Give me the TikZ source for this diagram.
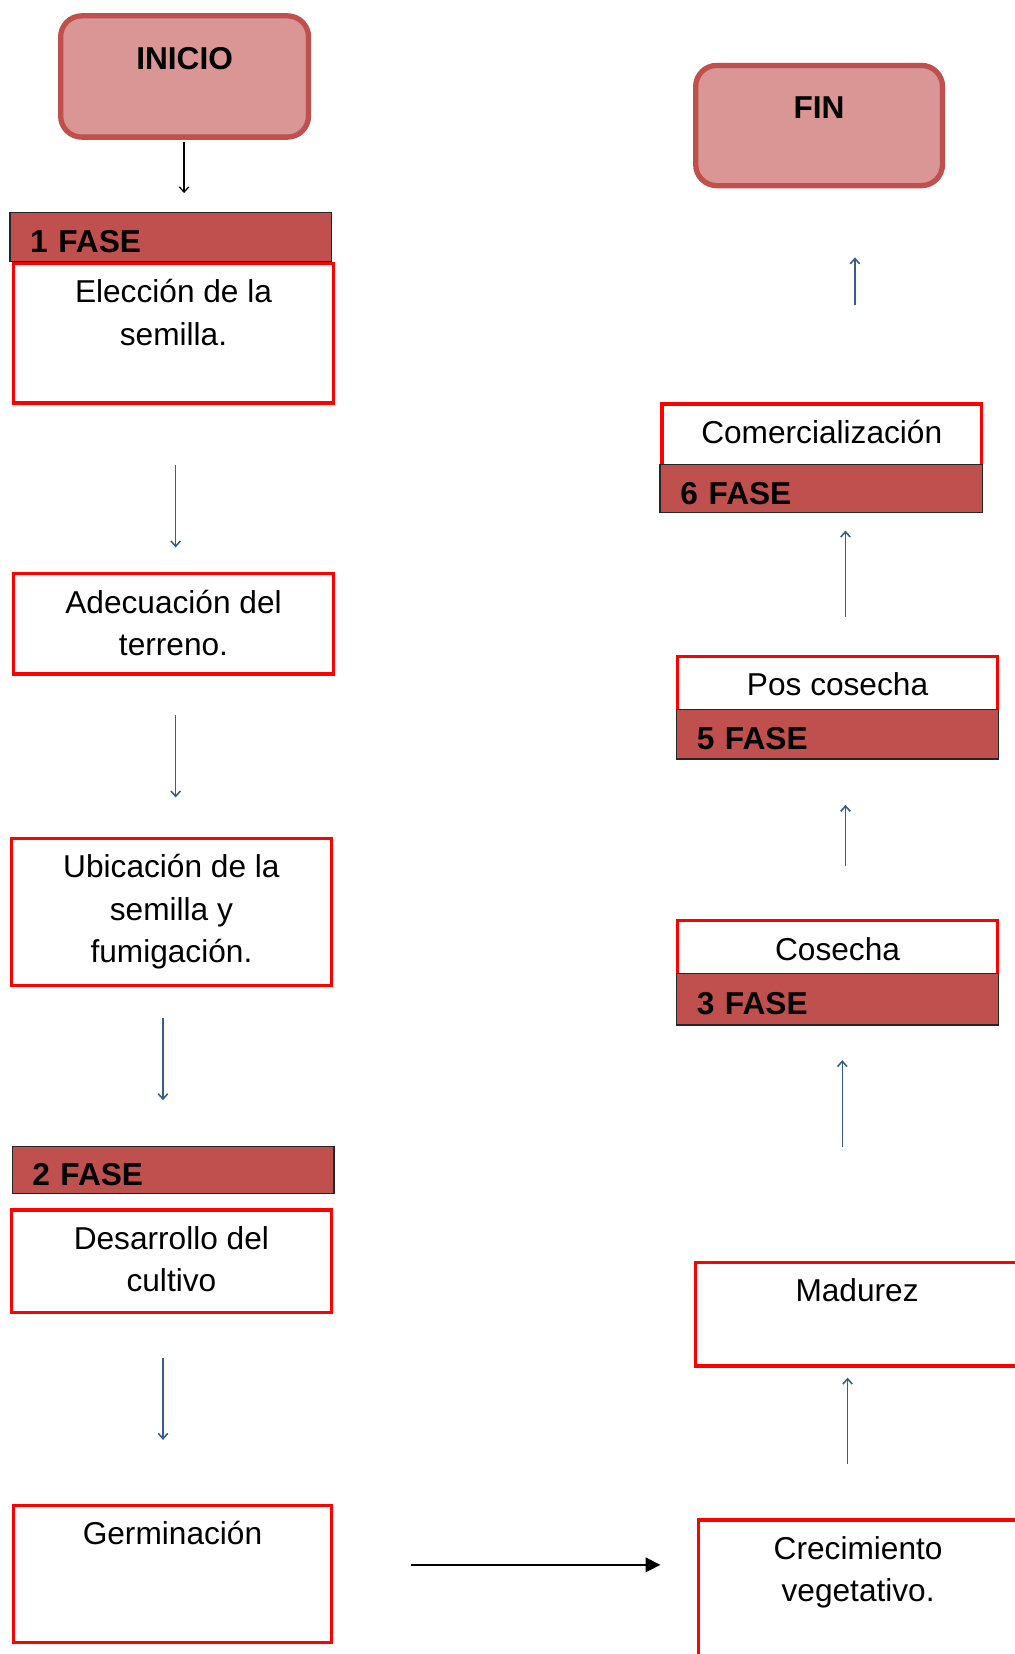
\documentclass[tikz,border=0pt]{standalone}
\usepackage{fontspec}
\setmainfont{Liberation Sans}
\usetikzlibrary{positioning,arrows.meta}
\definecolor{rosa}{HTML}{D99694}
\definecolor{teja}{HTML}{C0504D}
\definecolor{azul}{HTML}{385D8A}
\begin{document}
\begin{tikzpicture}[x=1pt,y=-1pt,
  box/.style={draw=red,line width=3pt,fill=white,anchor=north west,minimum width=303pt,inner sep=0pt},
  fase/.style={draw=black!85,line width=1.2pt,fill=teja,anchor=north west,minimum width=305pt,text width=267pt,inner xsep=19pt,inner ysep=0pt,align=left,text height=29.5pt,text depth=0pt,font=\fontsize{30}{36}\selectfont\bfseries},
  txt/.style={align=center,inner sep=0pt,text height=22pt,font=\fontsize{30}{40}\selectfont},
  dos/.style={text height=62pt},
  tres/.style={text height=102pt},
  term/.style={draw=teja,line width=5pt,fill=rosa,rounded corners=20pt,anchor=north west,minimum width=235pt,minimum height=115pt},
  flow/.style={azul,line width=1.5pt,-{Straight Barb[length=5pt,width=9pt]}}]

  \clip (0,0) rectangle (962,1568);

  % inicio y fin
  \draw (55,12.5) node[term] (ini) {};
  \node[txt,font=\fontsize{30}{40}\selectfont\bfseries,below=31pt of ini.north] (ini-t) {INICIO};
  \draw (657,59.5) node[term,minimum width=234pt,minimum height=114pt] (fin) {};
  \node[txt,font=\fontsize{30}{40}\selectfont\bfseries,below=31pt of fin.north] (fin-t) {FIN};

  % columna izquierda
  \draw (9,201) node[fase,minimum height=46pt] (f1) {1 FASE};
  \draw (11.5,248.5) node[box,minimum height=132pt] (elec) {};
  \node[txt,dos,below=16.5pt of elec.north] (elec-t) {Elección de la\\semilla.};

  \draw (11.5,542.5) node[box,minimum height=95pt] (adec) {};
  \node[txt,dos,below=16.5pt of adec.north] (adec-t) {Adecuación del\\terreno.};

  \draw (9.5,793.5) node[box,minimum height=139pt] (ubic) {};
  \node[txt,tres,below=16.5pt of ubic.north] (ubic-t) {Ubicación de la\\semilla y\\fumigación.};

  \draw (11,1086) node[fase,minimum height=45pt] (f2) {2 FASE};
  \draw (9.5,1145.5) node[box,minimum height=97pt] (desa) {};
  \node[txt,dos,below=16.5pt of desa.north] (desa-t) {Desarrollo del\\cultivo};

  \draw (11.5,1425.5) node[box,minimum width=301pt,minimum height=130pt] (germ) {};
  \node[txt,below=16.5pt of germ.north] (germ-t) {Germinación};

  % columna derecha
  \draw (660.5,1439.5) node[box,minimum height=150pt] (crec) {};
  \node[txt,dos,below=16.5pt of crec.north] (crec-t) {Crecimiento\\vegetativo.};

  \draw (657.5,1195.5) node[box,minimum width=307pt,minimum height=98pt] (madu) {};
  \node[txt,below=16.5pt of madu.north] (madu-t) {Madurez};

  \draw (641,871.5) node[box,minimum height=98pt] (cose) {};
  \node[txt,below=16.5pt of cose.north] (cose-t) {Cosecha};
  \draw (641,922) node[fase,minimum height=49pt] (f3) {3 FASE};

  \draw (641,620.5) node[box,minimum height=97pt] (pos) {};
  \node[txt,below=16.5pt of pos.north] (pos-t) {Pos cosecha};
  \draw (641,672) node[fase,minimum height=47pt] (f5) {5 FASE};

  \draw (626,381.5) node[box,minimum height=102pt] (come) {};
  \node[txt,below=16.5pt of come.north] (come-t) {Comercialización};
  \draw (625,440) node[fase,minimum width=306pt,minimum height=45pt] (f6) {6 FASE};

  % flechas
  \draw[black,line width=1.2pt,-{Straight Barb[length=5pt,width=9pt]},shorten <=2.5pt,shorten >=18pt]
    ([xshift=-0.5pt]ini.south) -- ([xshift=-0.5pt]ini.south |- f1.north);
  \draw[flow,shorten <=57.5pt,shorten >=23.5pt] ([xshift=2pt]elec.south) -- ([xshift=2pt]elec.south |- adec.north);
  \draw[flow,shorten <=37.5pt,shorten >=37.5pt] ([xshift=2pt]adec.south) -- ([xshift=2pt]adec.south |- ubic.north);
  \draw[flow,shorten <=29.5pt,shorten >=43pt] ([xshift=-8pt]ubic.south) -- ([xshift=-8pt]ubic.south |- f2.north);
  \draw[flow,shorten <=41.5pt,shorten >=60.5pt] ([xshift=-8pt]desa.south) -- ([xshift=-8pt]desa.south |- germ.north);
  \draw[black,line width=1.5pt,-{Triangle[length=14pt,width=14pt]},shorten <=74.5pt,shorten >=34.5pt]
    ([yshift=8.5pt]germ.east) -- ([yshift=8.5pt]germ.east -| crec.west);
  \draw[flow,shorten <=51.5pt,shorten >=9.5pt] ([xshift=-10pt]crec.north) -- ([xshift=-10pt]crec.north |- madu.south);
  \draw[flow,shorten <=108.5pt,shorten >=32.5pt] ([xshift=-14pt]madu.north) -- ([xshift=-14pt]madu.north |- cose.south);
  \draw[flow,shorten <=50.5pt,shorten >=42.5pt] ([xshift=7.5pt]cose.north) -- ([xshift=7.5pt]cose.north |- pos.south);
  \draw[flow,shorten <=35.5pt,shorten >=16.5pt] ([xshift=7.5pt]pos.north) -- ([xshift=7.5pt]pos.north |- come.south);
  \draw[flow,shorten <=92.5pt,shorten >=65.5pt] ([xshift=31.5pt]come.north) -- ([xshift=31.5pt]come.north |- fin.south);

\end{tikzpicture}
\end{document}
